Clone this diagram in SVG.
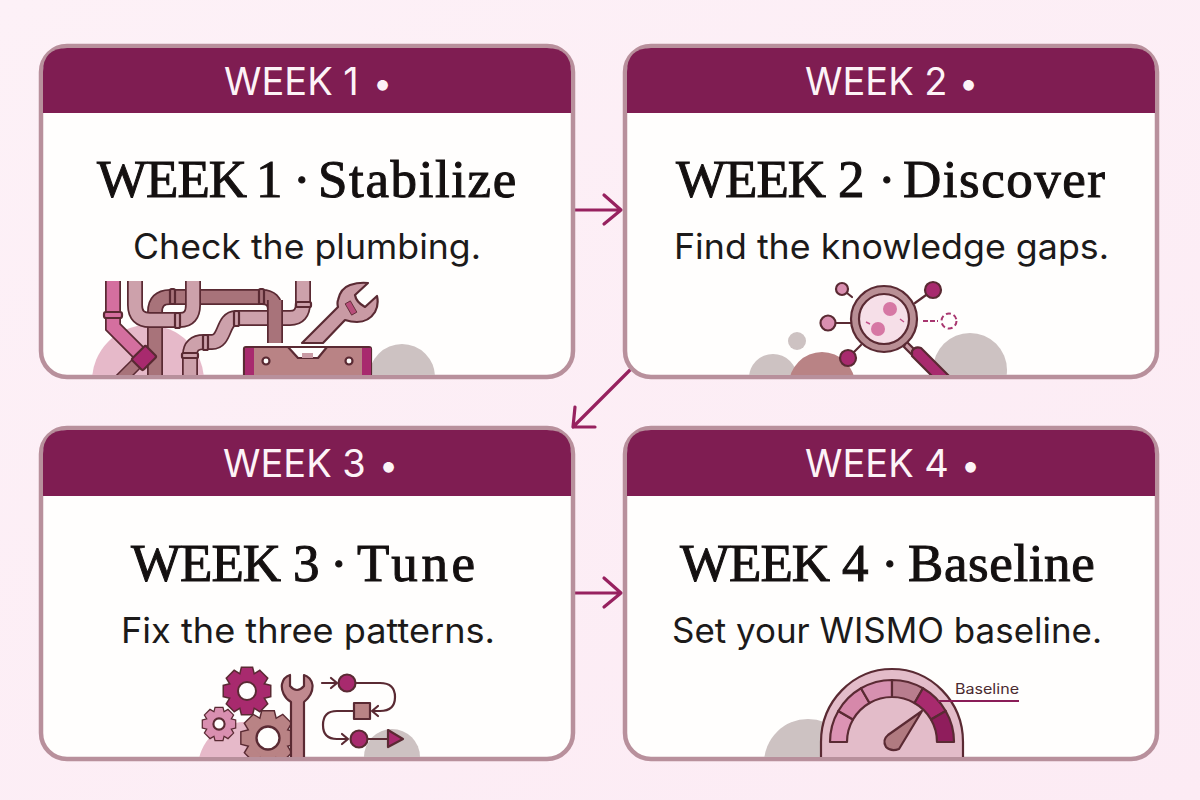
<svg xmlns="http://www.w3.org/2000/svg" width="1200" height="800" viewBox="0 0 1200 800">
<style>
.card{fill:#fffefd;stroke:#b8909c;stroke-width:4.5}
.hdr{fill:#7f1d52}
.ht{font-family:Inter,"Liberation Sans",sans-serif;font-size:38px;fill:#fdf3f7}
.bl{font-size:34px}
.tt{font-family:"Liberation Serif",serif;font-size:53px;font-weight:400;fill:#141010;stroke:#141010;stroke-width:1}
.wk{letter-spacing:-1px}
.st{font-family:Inter,"Liberation Sans",sans-serif;font-size:35px;fill:#1c1a1a}
.o{stroke:#5a2a33;stroke-width:2.2;stroke-linejoin:round}
.ol{fill:none;stroke:#5a2a33;stroke-linecap:butt}
.fl{fill:none;stroke:#5a2a33;stroke-width:2.2;stroke-linecap:round;stroke-linejoin:round}
.conn{fill:none;stroke:#97215f;stroke-width:3.2;stroke-linecap:round;stroke-linejoin:round}
.gray{fill:#cdc2c2}
.rose{fill:#e6b9c9}
.mag{fill:#a82a6e}
.pnk{fill:#d98fb0}
.brn{fill:#b98385}
</style>
<defs>
<linearGradient id="bg" x1="0" y1="0" x2="1" y2="1"><stop offset="0" stop-color="#fdf1f7"/><stop offset="1" stop-color="#fcebf4"/></linearGradient>
<clipPath id="c1"><rect x="43" y="281" width="528" height="94"/></clipPath>
<clipPath id="c2"><rect x="627" y="270" width="528" height="105"/></clipPath>
<clipPath id="c3"><rect x="43" y="660" width="528" height="97"/></clipPath>
<clipPath id="c4"><rect x="627" y="660" width="528" height="97"/></clipPath>
<g id="gearShape">
<circle r="17"/>
<path d="M-5-23H5L7-15H-7Z"/>
<path d="M-5-23H5L7-15H-7Z" transform="rotate(45)"/>
<path d="M-5-23H5L7-15H-7Z" transform="rotate(90)"/>
<path d="M-5-23H5L7-15H-7Z" transform="rotate(135)"/>
<path d="M-5-23H5L7-15H-7Z" transform="rotate(180)"/>
<path d="M-5-23H5L7-15H-7Z" transform="rotate(225)"/>
<path d="M-5-23H5L7-15H-7Z" transform="rotate(270)"/>
<path d="M-5-23H5L7-15H-7Z" transform="rotate(315)"/>
</g>
</defs>
<rect width="1200" height="800" fill="url(#bg)"/>

<g id="connectors" class="conn">
<path d="M575 210H621M604 195L621 210L604 224"/>
<path d="M630 370L573 427M575 407L573 427L595 427"/>
<path d="M575 593H621M604 578L621 593L604 607"/>
</g>

<g id="week1">
<rect class="card" x="41" y="46" width="532" height="331" rx="26"/>
<path class="hdr" d="M43 113V72Q43 48 67 48H547Q571 48 571 72V113Z"/>
<text class="ht" x="224" y="95">WEEK 1 <tspan class="bl" x="373">•</tspan></text>
<text class="tt" y="197"><tspan class="wk" x="97">WEEK</tspan> <tspan x="256">1</tspan> <tspan x="293">·</tspan> <tspan x="318" style="letter-spacing:1.6px">Stabilize</tspan></text>
<text class="st" x="133" y="259" textLength="348" lengthAdjust="spacingAndGlyphs">Check the plumbing.</text>
<g clip-path="url(#c1)">
<circle class="rose" cx="148" cy="381" r="56"/>
<circle class="gray" cx="402" cy="377" r="33"/>
<g id="pipes">
<path class="ol" stroke-width="16" d="M155 376V312Q155 297 170 297H262Q275 297 275 310V343"/>
<path fill="none" stroke="#a8737a" stroke-width="12.5" d="M155 376V312Q155 297 170 297H262Q275 297 275 310V343"/>
<path class="ol" stroke-width="16" d="M135 275V305Q135 320 150 320H180Q193 320 193 305V275"/>
<path fill="none" stroke="#cda1ab" stroke-width="12.5" d="M135 275V305Q135 320 150 320H180Q193 320 193 305V275"/>
<path class="ol" stroke-width="16" d="M190 380V355Q190 342 204 342H212C226 342 222 318 236 318H290Q303 318 303 303V275"/>
<path fill="none" stroke="#cda1ab" stroke-width="12.5" d="M190 380V355Q190 342 204 342H212C226 342 222 318 236 318H290Q303 318 303 303V275"/>
<path class="ol" stroke-width="16" d="M275 300V343"/>
<path fill="none" stroke="#a8737a" stroke-width="12.5" d="M275 300V343"/>
<path class="ol" stroke-width="13" d="M143 357L115 385"/>
<path fill="none" stroke="#a8737a" stroke-width="10" d="M143 357L115 385"/>
<path class="ol" stroke-width="16" d="M113 275V327L143 357"/>
<path fill="none" stroke="#d46f9f" stroke-width="12.5" d="M113 275V327L143 357"/>
<rect class="o" x="104" y="312" width="18" height="6" rx="2" fill="#d46f9f"/>
<rect class="o" x="170" y="289" width="5" height="15" rx="1.5" fill="#a8737a"/>
<rect class="o" x="259" y="289" width="5" height="15" rx="1.5" fill="#a8737a"/>
<rect class="o" x="175" y="313" width="5" height="15" rx="1.5" fill="#cda1ab"/>
<rect class="o" x="234" y="311" width="5" height="15" rx="1.5" fill="#cda1ab"/>
<rect class="o" x="203" y="335" width="5" height="15" rx="1.5" fill="#cda1ab"/>
<rect class="o" x="182" y="353" width="16" height="5" rx="1.5" fill="#cda1ab"/>
<rect class="o" x="296" y="302" width="15" height="5" rx="1.5" fill="#cda1ab"/>
<rect class="o mag" x="-10" y="-8" width="20" height="16" rx="2" transform="translate(144 358) rotate(-45)"/>
</g>
<g id="wrench1">
<path class="o" fill="#c99aa4" d="M302 343L338 307Q337 303 338 300C340 291 344 287 350 285Q359 282 368 283L355 295Q356 302 365 307L377 296Q379 305 375 312C370 320 364 322 357 322Q351 322 345 320L323 343Z"/>
<rect x="-3" y="-6.5" width="6" height="13" fill="#b84d7a" stroke="#5a2a33" stroke-width=".8" transform="translate(351 308) rotate(-30)"/>
</g>
<g id="level">
<rect x="242" y="344" width="131" height="4" fill="#fffefd"/>
<rect class="o brn" x="244" y="347" width="127" height="29" rx="2"/>
<rect class="mag" x="245" y="348" width="9" height="27"/>
<rect class="mag" x="362" y="348" width="9" height="27"/>
<path class="o" fill="#fffefd" d="M288 347L298 358H318L327 347Z"/>
<rect x="302" y="353" width="11" height="5" fill="#c99aa4"/>
<circle class="o" cx="266" cy="361" r="3.5" fill="#fffefd"/>
<circle class="o" cx="349" cy="361" r="3.5" fill="#fffefd"/>
</g>
</g>
</g>

<g id="week2">
<rect class="card" x="625" y="46" width="532" height="331" rx="26"/>
<path class="hdr" d="M627 113V72Q627 48 651 48H1131Q1155 48 1155 72V113Z"/>
<text class="ht" x="805" y="95">WEEK 2 <tspan class="bl" x="959">•</tspan></text>
<text class="tt" y="197"><tspan class="wk" x="676">WEEK</tspan> <tspan x="838">2</tspan> <tspan x="878">·</tspan> <tspan x="903" style="letter-spacing:1.5px">Discover</tspan></text>
<text class="st" x="674" y="259" textLength="435" lengthAdjust="spacingAndGlyphs">Find the knowledge gaps.</text>
<g clip-path="url(#c2)">
<circle class="gray" cx="773" cy="378" r="24"/>
<circle cx="822" cy="385" r="33" fill="#b98385"/>
<circle class="gray" cx="797" cy="341" r="9"/>
<circle class="gray" cx="970" cy="370" r="37"/>
<path class="fl" d="M842 289L852 297M933 290L915 303M828 323H853M848 358L861 345"/>
<circle class="o pnk" cx="842" cy="289" r="6"/>
<circle class="o mag" cx="933" cy="290" r="8"/>
<circle class="o pnk" cx="828" cy="323" r="7.5"/>
<circle class="o mag" cx="848" cy="358" r="8"/>
<path d="M923 321H938" fill="none" stroke="#a8366f" stroke-width="2" stroke-dasharray="5 2"/>
<circle cx="949" cy="321" r="7.5" fill="none" stroke="#a8366f" stroke-width="2" stroke-dasharray="5 3"/>
<path class="o" fill="#c99aa4" d="M906 341L911 346L916 351L911 354L904 347Z"/>
<path class="o mag" d="M912 351Q915 346 921 348L953 380H936L912 356Z"/>
<circle class="o" cx="884" cy="319" r="33" fill="#b98f95" stroke-width="2.4"/>
<circle class="o" cx="884" cy="319" r="25" fill="#f6dfe8"/>
<circle cx="890" cy="309" r="7" fill="#d677a4"/>
<circle cx="878" cy="329" r="7" fill="#d677a4"/>
<path d="M866 322L870 324M900 319L904 322" stroke="#c4528c" stroke-width="1.5"/>
</g>
</g>

<g id="week3">
<rect class="card" x="41" y="428" width="532" height="331" rx="26"/>
<path class="hdr" d="M43 496V454Q43 430 67 430H547Q571 430 571 454V496Z"/>
<text class="ht" x="223" y="477">WEEK 3 <tspan class="bl" x="379">•</tspan></text>
<text class="tt" y="581"><tspan class="wk" x="131">WEEK</tspan> <tspan x="293">3</tspan> <tspan x="330">·</tspan> <tspan x="357" style="letter-spacing:3.7px">Tune</tspan></text>
<text class="st" x="121" y="643" textLength="374" lengthAdjust="spacingAndGlyphs">Fix the three patterns.</text>
<g clip-path="url(#c3)">
<circle class="rose" cx="244" cy="768" r="46"/>
<circle class="gray" cx="392" cy="757" r="28"/>
<g id="gear1" transform="translate(247 691)"><use href="#gearShape" fill="#5a2a33" stroke="#5a2a33" stroke-width="3"/><use href="#gearShape" fill="#a82a6e"/><circle r="9" fill="#fffefd" stroke="#5a2a33" stroke-width="2"/></g>
<g id="gear2" transform="translate(219 724) scale(.7)"><use href="#gearShape" fill="#5a2a33" stroke="#5a2a33" stroke-width="3.5"/><use href="#gearShape" fill="#d98fb0"/><circle r="8" fill="#fffefd" stroke="#5a2a33" stroke-width="3"/></g>
<g id="gear3" transform="translate(268 738) scale(1.15)"><use href="#gearShape" fill="#5a2a33" stroke="#5a2a33" stroke-width="2.5"/><use href="#gearShape" fill="#b98385"/><circle r="10" fill="#fffefd" stroke="#5a2a33" stroke-width="2"/></g>
<path id="wrench3" class="o" fill="#c0898f" d="M291 760V702C284 698 281 690 282 684C283 679 287 676 290 675V686Q297 694 304 686V675C308 676 312 680 312.5 685C313 692 309 698 304 702V760Z"/>
<path class="fl" d="M322 683H336M331 678L337 683L331 688"/>
<path class="fl" d="M356 683H380Q395 683 395 697Q395 711 380 711H372M378 706L372 711L378 716"/>
<path class="fl" d="M354 711H337Q323 711 323 725Q323 739 337 739H348M342 734L348 739L342 744"/>
<path class="fl" d="M368 739H390"/>
<circle class="o mag" cx="347" cy="683" r="8.5"/>
<rect class="o brn" x="354" y="703" width="16" height="16"/>
<circle class="o mag" cx="359" cy="739" r="8.5"/>
<path class="o" fill="#a82a6e" d="M388 730L403 739L388 747Z"/>
</g>
</g>

<g id="week4">
<rect class="card" x="625" y="428" width="532" height="331" rx="26"/>
<path class="hdr" d="M627 496V454Q627 430 651 430H1131Q1155 430 1155 454V496Z"/>
<text class="ht" x="805" y="477">WEEK 4 <tspan class="bl" x="961">•</tspan></text>
<text class="tt" y="581"><tspan class="wk" x="680">WEEK</tspan> <tspan x="842">4</tspan> <tspan x="881">·</tspan> <tspan x="908" style="letter-spacing:.6px">Baseline</tspan></text>
<text class="st" x="672" y="643" textLength="430" lengthAdjust="spacingAndGlyphs">Set your WISMO baseline.</text>
<g clip-path="url(#c4)">
<circle class="gray" cx="808" cy="763" r="44"/>
<path class="o" fill="#e3bcc9" d="M821 760V742A71 73 0 0 1 963 742V760Z"/>
<g class="o" stroke-width="1.8">
<path fill="#dc93b4" d="M830 742A62 62 0 0 1 838.3 711L853 719.5A45 45 0 0 0 847 742Z"/>
<path fill="#d688aa" d="M838.3 711A62 62 0 0 1 861 688.3L869.5 703A45 45 0 0 0 853 719.5Z"/>
<path fill="#d690b0" d="M861 688.3A62 62 0 0 1 892 680V697A45 45 0 0 0 869.5 703Z"/>
<path fill="#b87d8e" d="M892 680A62 62 0 0 1 923 688.3L914.5 703A45 45 0 0 0 892 697Z"/>
<path fill="#a82a6e" d="M923 688.3A62 62 0 0 1 945.7 711L931 719.5A45 45 0 0 0 914.5 703Z"/>
<path fill="#8f1d5c" d="M945.7 711A62 62 0 0 1 954 742H937A45 45 0 0 0 931 719.5Z"/>
</g>
<path class="o" fill="#b07a80" d="M922 711L899 749Q891 752 886 747Q882 740 888 735Z"/>
<path d="M938 701H1019" stroke="#8a1d58" stroke-width="2.2"/>
<text x="955" y="694" font-family="Inter,'Liberation Sans',sans-serif" font-size="14" fill="#4a2a30" textLength="64" lengthAdjust="spacingAndGlyphs">Baseline</text>
</g>
</g>
</svg>
